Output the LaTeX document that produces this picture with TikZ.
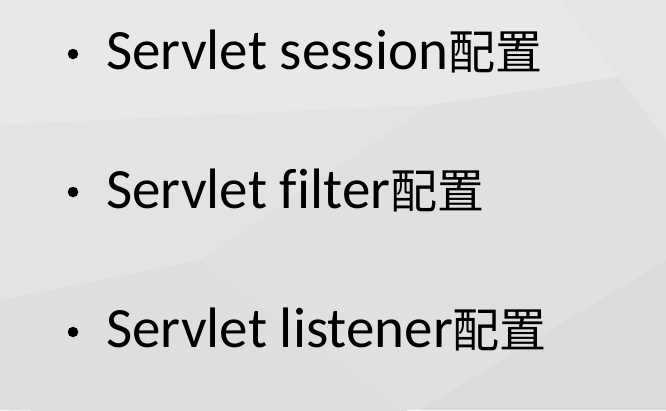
\documentclass[tikz,border=0pt]{standalone}
\usepackage{fontspec}
\setmainfont[Ligatures=NoCommon]{Carlito}
\newfontfamily\cjk{Noto Sans CJK SC}
\tikzset{
  item/.style={anchor=base west,inner sep=0pt,font=\fontsize{57}{60}\selectfont},
  dot/.style={circle,fill=black,inner sep=0pt,minimum size=10.5pt}
}
\begin{document}
\begin{tikzpicture}[x=1pt,y=-1pt]
      \useasboundingbox (0,0) rectangle (666,410);
      \fill[black!12] (0,0) rectangle (666,410);
      \fill[black!9] (0,0) -- (666,0) -- (666,70) -- (430,105) -- (0,125) -- cycle;
      \fill[black!10] (560,0) -- (666,0) -- (666,140) -- cycle;
      \fill[black!11] (0,125) -- (430,105) -- (200,260) -- (0,300) -- cycle;
      \fill[black!13] (0,300) -- (200,260) -- (420,420) -- (0,410) -- cycle;
      \fill[black!14] (420,410) -- (666,260) -- (666,410) -- cycle;
      \node[dot] (b1) at (73,54) {};
      \node[dot] (b2) at (73,192) {};
      \node[dot] (b3) at (73,332) {};
      \node[item] (session) at (106,69) {Servlet session{\cjk\fontsize{47}{50}\selectfont 配置}};
      \node[item] (filter) at (106,208) {Servlet filter{\cjk\fontsize{47}{50}\selectfont 配置}};
      \node[item] (listener) at (106,347) {Servlet listener{\cjk\fontsize{47}{50}\selectfont 配置}};
\end{tikzpicture}
\end{document}
